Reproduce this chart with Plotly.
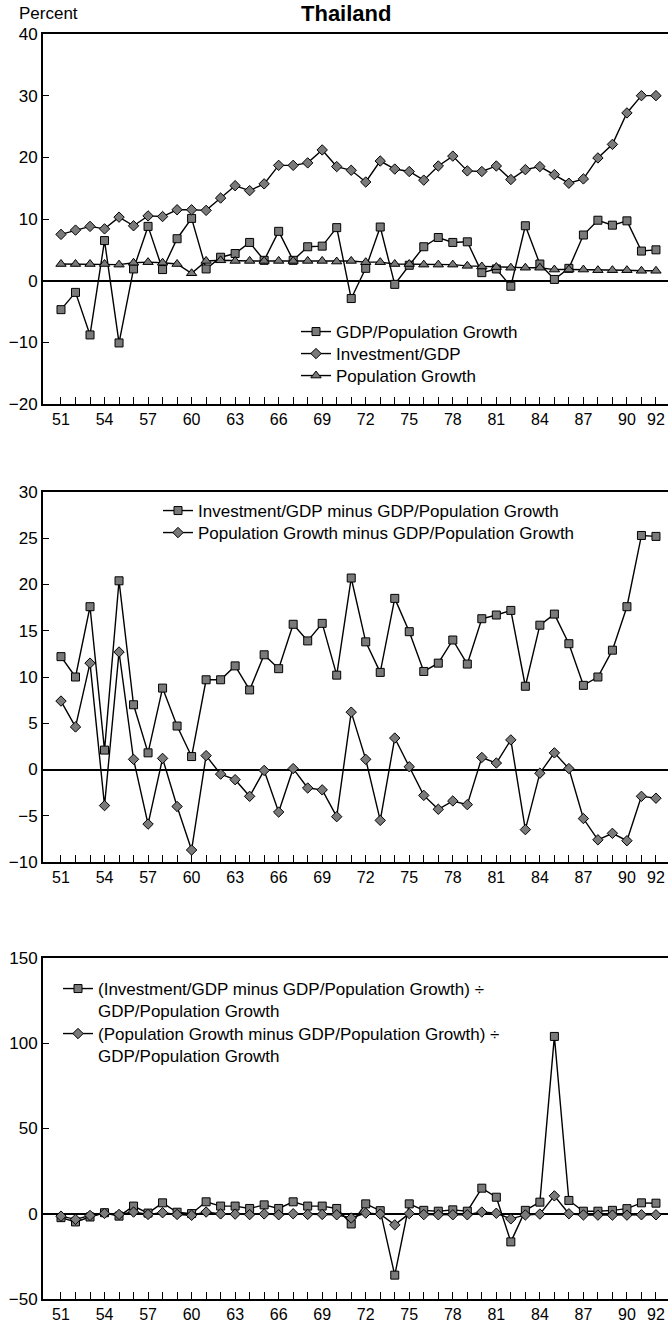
import plotly.graph_objects as go

W, H = 668, 1325
ML = 43

years = list(range(51, 93))
label_years = [51, 54, 57, 60, 63, 66, 69, 72, 75, 78, 81, 84, 87, 90, 92]
tick_text = [str(y) if y in label_years else "" for y in years]

gdp_pop_growth = [-4.7, -1.9, -8.8, 6.5, -10.1, 1.9, 8.8, 1.8, 6.8, 10.1,
                  1.9, 3.8, 4.4, 6.2, 3.3, 8.0, 3.3, 5.5, 5.6, 8.6,
                  -2.9, 2.0, 8.7, -0.6, 2.5, 5.5, 7.0, 6.2, 6.3, 1.3,
                  1.9, -0.9, 8.9, 2.7, 0.2, 2.0, 7.4, 9.8, 9.0, 9.7,
                  4.8, 5.0]
investment_gdp = [7.5, 8.2, 8.8, 8.4, 10.3, 8.9, 10.5, 10.4, 11.5, 11.5,
                  11.4, 13.4, 15.4, 14.6, 15.7, 18.7, 18.7, 19.1, 21.2, 18.5,
                  17.9, 16.0, 19.4, 18.1, 17.7, 16.3, 18.6, 20.2, 17.8, 17.7,
                  18.6, 16.4, 18.0, 18.5, 17.2, 15.8, 16.5, 19.9, 22.1, 27.2,
                  30.0, 30.0]
population_growth = [2.7, 2.7, 2.7, 2.7, 2.6, 2.9, 3.0, 2.9, 2.7, 1.2,
                     3.2, 3.3, 3.2, 3.2, 3.2, 3.2, 3.2, 3.2, 3.2, 3.1,
                     3.2, 3.0, 3.0, 2.7, 2.7, 2.6, 2.6, 2.6, 2.4, 2.3,
                     2.2, 2.1, 2.1, 2.1, 1.8, 1.8, 1.8, 1.7, 1.7, 1.7,
                     1.6, 1.6]

inv_minus_gdp = [12.2, 10.0, 17.6, 2.1, 20.4, 7.0, 1.8, 8.8, 4.7, 1.4,
                 9.7, 9.7, 11.2, 8.6, 12.4, 10.9, 15.7, 13.9, 15.8, 10.2,
                 20.7, 13.8, 10.5, 18.5, 14.9, 10.6, 11.5, 14.0, 11.4, 16.3,
                 16.7, 17.2, 9.0, 15.6, 16.8, 13.6, 9.1, 10.0, 12.9, 17.6,
                 25.3, 25.2]
pop_minus_gdp = [7.4, 4.6, 11.5, -3.9, 12.7, 1.1, -5.9, 1.2, -4.0, -8.7,
                 1.5, -0.5, -1.1, -2.9, -0.1, -4.6, 0.1, -2.0, -2.2, -5.1,
                 6.2, 1.1, -5.5, 3.4, 0.3, -2.8, -4.3, -3.4, -3.8, 1.3,
                 0.7, 3.2, -6.5, -0.4, 1.8, 0.1, -5.3, -7.6, -6.9, -7.7,
                 -2.9, -3.1]

ratio_inv = [-2.3, -4.8, -1.9, 0.6, -1.4, 4.5, 0.4, 6.4, 0.9, 0.1,
             7.0, 4.5, 4.5, 3.1, 5.2, 3.1, 7.0, 4.5, 4.5, 3.1,
             -6.0, 5.8, 1.8, -36.0, 5.8, 2.0, 1.5, 2.3, 1.5, 15.0,
             9.7, -16.5, 2.0, 6.8, 104.0, 7.8, 1.5, 1.5, 2.0, 3.0,
             6.4, 6.2]
ratio_pop = [-1.4, -3.3, -1.0, 0.2, -0.4, 1.0, -0.4, 0.6, -0.4, -0.9,
             1.0, -0.1, -0.2, -0.5, -0.1, -0.6, 0.0, -0.4, -0.4, -0.6,
             -2.5, 0.4, -0.2, -6.5, 0.1, -0.5, -0.6, -0.6, -0.6, 1.0,
             0.3, -3.0, -0.7, -0.2, 10.5, 0.0, -0.7, -0.8, -0.8, -0.8,
             -0.6, -0.6]

FILL = "#7a7a7a"
LINE = dict(color="black", width=1.4)
FAM = "Liberation Sans, Arial, sans-serif"


def mk(symbol, size):
    return dict(symbol=symbol, size=size, color=FILL, line=dict(color="black", width=1))


# (name, values, symbol, size, panel, legend id, legend text-left px, first-line centre px)
series = [
    ("GDP/Population Growth", gdp_pop_growth, "square", 8, 1, "legend", 335, 331),
    ("Investment/GDP", investment_gdp, "diamond", 8, 1, "legend4", 335, 353),
    ("Population Growth", population_growth, "triangle-up", 9, 1, "legend5", 335, 375),
    ("Investment/GDP minus GDP/Population Growth", inv_minus_gdp, "square", 8, 2, "legend2", 197, 510),
    ("Population Growth minus GDP/Population Growth", pop_minus_gdp, "diamond", 8, 2, "legend6", 197, 532),
    ("(Investment/GDP minus GDP/Population Growth) ÷<br>GDP/Population Growth", ratio_inv,
     "square", 8, 3, "legend3", 97, 988),
    ("(Population Growth minus GDP/Population Growth) ÷<br>GDP/Population Growth", ratio_pop,
     "diamond", 8, 3, "legend7", 97, 1033),
]

fig = go.Figure()
for name, vals, sym, size, panel, leg, _, _ in series:
    sfx = "" if panel == 1 else str(panel)
    fig.add_trace(go.Scatter(x=years, y=vals, name=name, mode="lines+markers", line=LINE,
                             marker=mk(sym, size), xaxis="x" + sfx, yaxis="y" + sfx, legend=leg))


def py(pix):
    return 1 - pix / H


def px(pix):
    return (pix - ML) / (W - ML)


XFONT = dict(family=FAM, size=16, color="black")
YFONT = dict(family=FAM, size=17, color="black")
LFONT = dict(family=FAM, size=17, color="black")

xcommon = dict(range=[49.76, 92.83], tickmode="array", tickvals=years, ticktext=tick_text,
               ticks="inside", ticklen=7, tickwidth=1, tickcolor="black",
               showline=True, linewidth=2, linecolor="black", mirror=True,
               showgrid=False, zeroline=False, tickfont=XFONT, automargin=False, fixedrange=True)
ycommon = dict(ticks="inside", ticklen=6, tickwidth=1, tickcolor="black",
               showline=True, linewidth=2, linecolor="black",
               showgrid=False, zeroline=True, zerolinecolor="black", zerolinewidth=1.5,
               tickfont=YFONT, automargin=False, tickmode="linear", fixedrange=True)

panels = [(34, 404, [-20, 40], 10), (492, 862, [-10, 30], 5), (958, 1299, [-50, 150], 50)]
layout = {}
for i, (top, bot, rng, dt) in enumerate(panels):
    sfx = "" if i == 0 else str(i + 1)
    layout["xaxis" + sfx] = dict(xcommon, domain=[0, 1], anchor="y" + sfx)
    layout["yaxis" + sfx] = dict(ycommon, domain=[py(bot), py(top)], range=rng, tick0=rng[0], dtick=dt,
                                 anchor="x" + sfx)

legend_common = dict(font=LFONT, bgcolor="rgba(0,0,0,0)", borderwidth=0, xanchor="left", yanchor="top",
                     tracegroupgap=0, itemclick=False, itemdoubleclick=False, valign="top")
for name, vals, sym, size, panel, leg, tx, cy in series:
    layout[leg] = dict(legend_common, x=px(tx - 39), y=py(cy - 17))

fig.update_layout(
    width=W, height=H,
    margin=dict(l=ML, r=0, t=0, b=0),
    paper_bgcolor="white", plot_bgcolor="white",
    font=XFONT,
    showlegend=True,
    annotations=[
        dict(text="<b>Thailand</b>", xref="paper", yref="paper", x=px(346), y=py(13),
             xanchor="center", yanchor="middle", showarrow=False,
             font=dict(family=FAM, size=22, color="black")),
        dict(text="Percent", xref="paper", yref="paper", x=px(17), y=py(13),
             xanchor="left", yanchor="middle", showarrow=False,
             font=dict(family=FAM, size=17, color="black")),
    ],
    **layout,
)

fig.write_html("out.html", config={"displayModeBar": False})
